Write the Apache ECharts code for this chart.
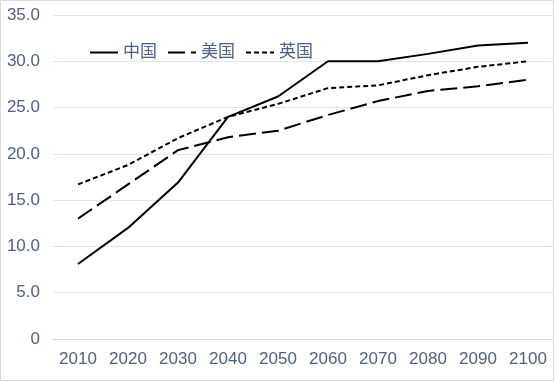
<!DOCTYPE html>
<html><head><meta charset="utf-8">
<script src="https://cdn.jsdelivr.net/npm/echarts@6/dist/echarts.min.js"></script>
<style>html,body{margin:0;padding:0;background:#fff}#c{width:555px;height:382px}</style>
</head><body><div id="c"></div>
<script>
const years = ['2010','2020','2030','2040','2050','2060','2070','2080','2090','2100'];
const china = [8.1, 12.0, 16.9, 24.0, 26.2, 30.0, 30.0, 30.8, 31.7, 32.0];
const usa   = [13.0, 16.7, 20.4, 21.8, 22.5, 24.2, 25.7, 26.8, 27.3, 28.0];
const uk    = [16.7, 18.8, 21.7, 24.0, 25.4, 27.1, 27.4, 28.5, 29.4, 30.0];
const seriesNames = ['中国','美国','英国'];
const yMin = 0, yMax = 35, yStep = 5;

const font = '"Liberation Sans", "Noto Sans CJK SC", sans-serif';
const labelColor = '#50607E';
const chart = echarts.init(document.getElementById('c'));
function mk(name, data, type, width) {
  return {
    name, type: 'line', data, symbol: 'none', smooth: false,
    lineStyle: { color: '#000', width: width, type: type },
    itemStyle: { color: '#000' }
  };
}
chart.setOption({
  animation: false,
  textStyle: { fontFamily: font },
  graphic: [{ type: 'rect', shape: { x: 0.5, y: 0.5, width: 553, height: 380 },
    style: { fill: 'none', stroke: '#D9D9D9', lineWidth: 1 }, silent: true, z: -1 }],
  legend: {
    left: 84, top: 39, itemWidth: 28, itemHeight: 14, itemGap: 10,
    itemStyle: { opacity: 0 },
    textStyle: { fontSize: 17, color: labelColor, fontFamily: font },
    data: seriesNames
  },
  grid: { left: 53, right: 2, top: 15, bottom: 43 },
  xAxis: {
    type: 'category', data: years, boundaryGap: true,
    axisLine: { lineStyle: { color: '#D9DEE8' } },
    axisTick: { lineStyle: { color: '#D9DEE8' }, length: 6 },
    axisLabel: { fontSize: 17, color: labelColor, margin: 12, fontFamily: font }
  },
  yAxis: {
    type: 'value', min: yMin, max: yMax, interval: yStep,
    axisLine: { show: false }, axisTick: { show: false },
    splitLine: { lineStyle: { color: '#E0E4EC' } },
    axisLabel: { fontSize: 17, color: labelColor, margin: 13, fontFamily: font,
      formatter: v => v === 0 ? '0' : v.toFixed(1) }
  },
  series: [
    mk(seriesNames[0], china, 'solid', 2),
    mk(seriesNames[1], usa, [17, 6], 2),
    mk(seriesNames[2], uk, [5, 3], 2)
  ]
});
</script></body></html>
